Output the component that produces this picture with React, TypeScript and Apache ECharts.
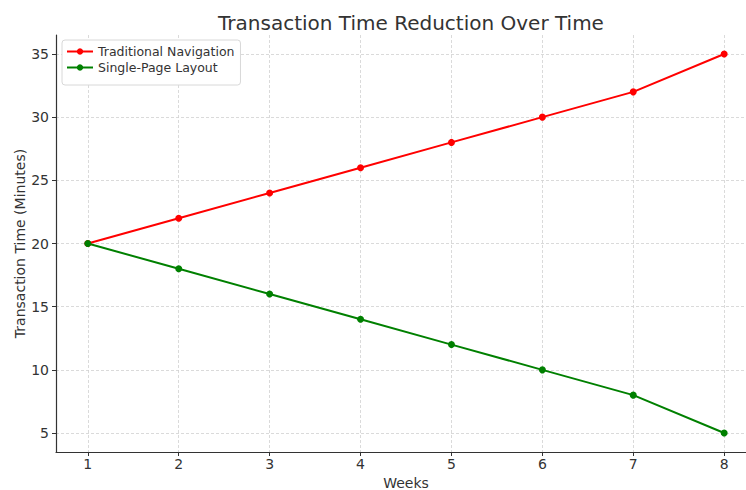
import React, { useEffect, useRef } from "react";
import * as echarts from "echarts";

const weeks = [1, 2, 3, 4, 5, 6, 7, 8];
const traditional = [20, 22, 24, 26, 28, 30, 32, 35];
const singlePage = [20, 18, 16, 14, 12, 10, 8, 5];
const yTicks = [5, 10, 15, 20, 25, 30, 35];
const xTicks = [1, 2, 3, 4, 5, 6, 7, 8];

const FONT = "DejaVu Sans";

export default function App() {
  const ref = useRef<HTMLDivElement>(null);
  useEffect(() => {
    const chart = echarts.init(ref.current!, null, { renderer: "svg" });
    const gridLine = { show: true, lineStyle: { color: "#d0d0d0", type: [3, 2], width: 0.8 } };
    chart.setOption({
      animation: false,
      backgroundColor: "#ffffff",
      title: {
        text: "Transaction Time Reduction Over Time",
        left: 406,
        top: 8,
        textAlign: "center",
        textStyle: { fontFamily: FONT, fontSize: 20, fontWeight: "normal", color: "#333333" },
      },
      legend: {
        left: 62,
        top: 40,
        orient: "vertical",
        itemWidth: 26,
        itemHeight: 8,
        itemGap: 3,
        padding: [5, 6, 11, 4],
        backgroundColor: "#ffffff",
        borderColor: "#d8d8d8",
        borderWidth: 1,
        borderRadius: 3,
        textStyle: { fontFamily: FONT, fontSize: 12.5, color: "#333333" },
        data: ["Traditional Navigation", "Single-Page Layout"],
      },
      grid: {
        left: 56,
        top: 35,
        width: 700,
        height: 417,
        containLabel: false,
        outerBoundsMode: "none",
      },
      xAxis: {
        type: "value",
        min: 0.65,
        max: 8.35,
        name: "Weeks",
        nameLocation: "middle",
        nameGap: 24,
        nameTextStyle: { fontFamily: FONT, fontSize: 14, color: "#333333" },
        axisLine: { show: true, onZero: false, lineStyle: { color: "#333333", width: 1.2 } },
        axisTick: { show: true, length: 4, customValues: xTicks, lineStyle: { color: "#333333" } },
        axisLabel: {
          customValues: xTicks,
          fontFamily: FONT,
          fontSize: 14,
          color: "#333333",
          margin: 5,
        },
        splitLine: gridLine,
      },
      yAxis: {
        type: "value",
        min: 3.5,
        max: 36.5,
        name: "Transaction Time (Minutes)",
        nameLocation: "middle",
        nameGap: 29,
        nameMoveOverlap: false,
        nameTextStyle: { fontFamily: FONT, fontSize: 14, color: "#333333" },
        axisLine: { show: true, onZero: false, lineStyle: { color: "#333333", width: 1.2 } },
        axisTick: { show: true, length: 4, customValues: yTicks, lineStyle: { color: "#333333" } },
        axisLabel: {
          customValues: yTicks,
          fontFamily: FONT,
          fontSize: 14,
          color: "#333333",
          margin: 7,
        },
        splitLine: gridLine,
      },
      series: [
        {
          name: "Traditional Navigation",
          type: "line",
          data: weeks.map((w, i) => [w, traditional[i]]),
          symbol: "circle",
          symbolSize: 7,
          itemStyle: { color: "#ff0000" },
          lineStyle: { color: "#ff0000", width: 2 },
        },
        {
          name: "Single-Page Layout",
          type: "line",
          data: weeks.map((w, i) => [w, singlePage[i]]),
          symbol: "circle",
          symbolSize: 7,
          itemStyle: { color: "#008000" },
          lineStyle: { color: "#008000", width: 2 },
        },
      ],
    });
    return () => chart.dispose();
  }, []);
  return (
    <div
      ref={ref}
      style={{ position: "fixed", left: 0, top: 0, width: 746, height: 490, overflow: "hidden" }}
    />
  );
}
